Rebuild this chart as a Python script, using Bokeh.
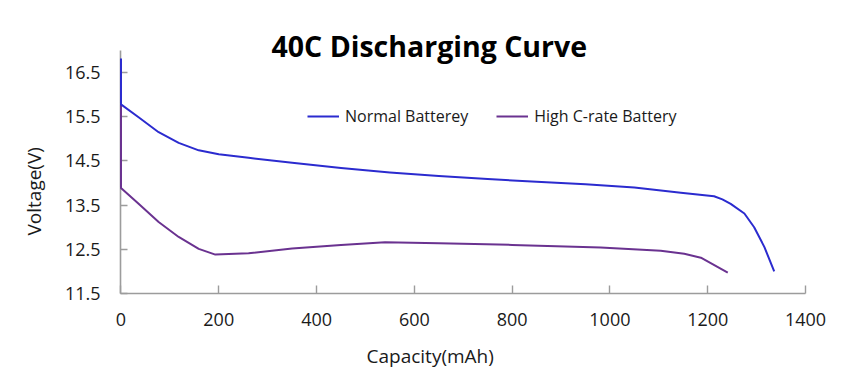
from bokeh.plotting import figure
from bokeh.models import FixedTicker, Title, Legend, LegendItem, Range1d
from bokeh.embed import file_html
from bokeh.resources import INLINE

# Data
normal_cap = [0, 0, 36, 77, 118, 159, 200, 261, 350, 450, 550, 650, 750, 850,
              950, 1050, 1145, 1213, 1230, 1247, 1275, 1295, 1316, 1336]
normal_volt = [16.82, 15.78, 15.49, 15.15, 14.91, 14.74, 14.65, 14.57, 14.46, 14.34,
               14.24, 14.16, 14.09, 14.03, 13.97, 13.90, 13.78, 13.70, 13.63, 13.53,
               13.31, 13.00, 12.55, 12.00]

high_cap = [0, 0, 36, 77, 118, 159, 193, 261, 350, 450, 540, 650, 800, 981,
            1104, 1152, 1186, 1241]
high_volt = [15.78, 13.89, 13.53, 13.12, 12.78, 12.51, 12.38, 12.41, 12.52, 12.60,
             12.66, 12.64, 12.60, 12.54, 12.47, 12.40, 12.31, 11.97]

x_ticks = [0, 200, 400, 600, 800, 1000, 1200, 1400]
y_ticks = [11.5, 12.5, 13.5, 14.5, 15.5, 16.5]

title_text = "40C  Discharging Curve"
x_label = "Capacity(mAh)"
y_label = "Voltage(V)"
series_names = ["Normal Batterey", "High C-rate Battery"]

FONT = "Open Sans"
AXIS_COLOR = "#9c9c9c"
TEXT_COLOR = "#1a1a1a"
BLUE = "#2b2bcf"
PURPLE = "#6a3290"

p = figure(width=859, height=385, output_backend="svg", toolbar_location=None,
           x_range=Range1d(-1, 1400), y_range=Range1d(11.5, 17.0),
           min_border_left=120, min_border_right=54, min_border_top=50,
           min_border_bottom=92)
p.outline_line_color = None
p.xgrid.grid_line_color = None
p.ygrid.grid_line_color = None
p.background_fill_color = "white"
p.border_fill_color = "white"

for ax in (p.xaxis[0], p.yaxis[0]):
    ax.axis_line_color = AXIS_COLOR
    ax.axis_line_width = 1.6
    ax.major_tick_line_color = AXIS_COLOR
    ax.major_tick_line_width = 1.4
    ax.major_tick_out = 0
    ax.minor_tick_line_color = None
    ax.major_label_text_font = FONT
    ax.major_label_text_font_size = "18px"
    ax.major_label_text_color = TEXT_COLOR

p.xaxis[0].ticker = FixedTicker(ticks=x_ticks)
p.yaxis[0].ticker = FixedTicker(ticks=y_ticks)
p.xaxis[0].major_tick_in = 8
p.yaxis[0].major_tick_in = 7
p.xaxis[0].major_label_standoff = 19
p.yaxis[0].major_label_standoff = 20
p.yaxis[0].major_label_overrides = {v: f"{v:.1f}" for v in y_ticks}
p.xaxis[0].major_label_overrides = {v: str(v) for v in x_ticks}

r1 = p.line(normal_cap, normal_volt, line_color=BLUE, line_width=2,
            line_join="round", level="overlay")
r2 = p.line(high_cap, high_volt, line_color=PURPLE, line_width=2,
            line_join="round", level="overlay")
# keep the blue on top
p.renderers = [r2, r1]

legend = Legend(items=[LegendItem(label=series_names[0], renderers=[r1]),
                       LegendItem(label=series_names[1], renderers=[r2])],
                orientation="horizontal", location=(187, 166),
                label_text_font=FONT, label_text_font_size="16px",
                label_text_color=TEXT_COLOR,
                glyph_width=32, glyph_height=20, label_standoff=6, spacing=28,
                padding=0, margin=0, border_line_color=None,
                background_fill_alpha=0)
p.add_layout(legend, "center")

p.add_layout(Title(text=title_text, text_font=FONT, text_font_size="28.5px",
                   text_font_style="bold", text_color="black", align="left",
                   offset=151, standoff=-28), "above")
p.add_layout(Title(text=x_label, text_font=FONT, text_font_size="19px",
                   text_font_style="normal", text_color=TEXT_COLOR, align="left",
                   offset=246, vertical_align="top", standoff=29), "below")
p.add_layout(Title(text=y_label, text_font=FONT, text_font_size="19px",
                   text_font_style="normal", text_color=TEXT_COLOR, align="left",
                   offset=58, standoff=30), "left")

open("out.html", "w").write(file_html(p, INLINE))
